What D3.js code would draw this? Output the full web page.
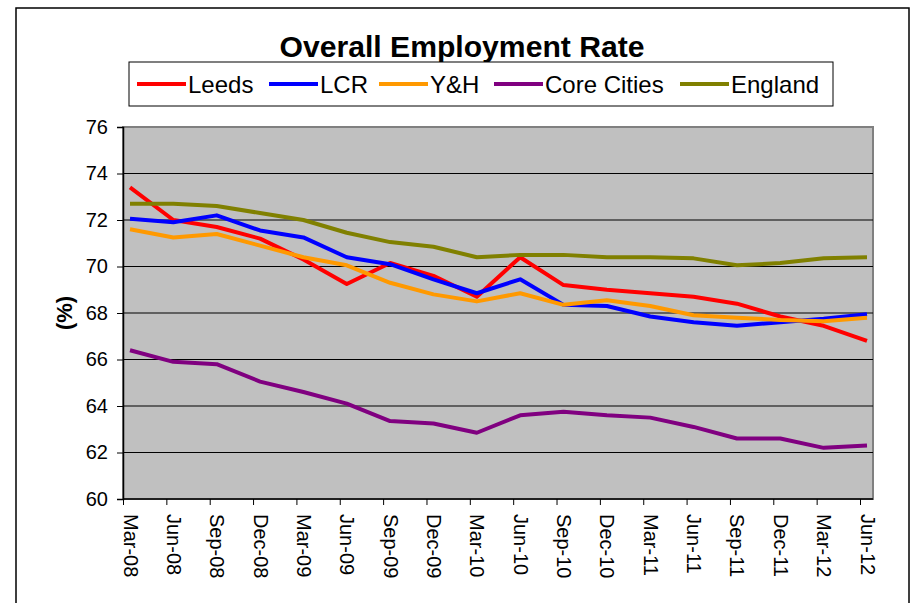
<!DOCTYPE html>
<html>
<head>
<meta charset="utf-8">
<script src="https://cdn.jsdelivr.net/npm/d3@7"></script>
<style>
  body { margin: 0; background: #fff; }
  svg { display: block; font-family: "Liberation Sans", Arial, sans-serif; }
</style>
</head>
<body>
<svg width="911" height="603"></svg>
<script>
// quarters along the x axis
var quarters = ["Mar-08","Jun-08","Sep-08","Dec-08","Mar-09","Jun-09","Sep-09","Dec-09","Mar-10",
                "Jun-10","Sep-10","Dec-10","Mar-11","Jun-11","Sep-11","Dec-11","Mar-12","Jun-12"];

// employment rate (%) per area
var leeds      = [73.4, 72.0, 71.7, 71.2, 70.3, 69.25, 70.15, 69.6, 68.7, 70.4, 69.2, 69.0, 68.85, 68.7, 68.4, 67.85, 67.45, 66.8];
var lcr        = [72.05, 71.9, 72.2, 71.55, 71.25, 70.4, 70.1, 69.45, 68.85, 69.45, 68.35, 68.3, 67.85, 67.6, 67.45, 67.6, 67.75, 67.95];
var yh         = [71.6, 71.25, 71.4, 70.9, 70.4, 70.05, 69.3, 68.8, 68.5, 68.85, 68.35, 68.55, 68.3, 67.9, 67.8, 67.7, 67.65, 67.8];
var coreCities = [66.4, 65.9, 65.8, 65.05, 64.6, 64.1, 63.35, 63.25, 62.85, 63.6, 63.75, 63.6, 63.5, 63.1, 62.6, 62.6, 62.2, 62.3];
var england    = [72.7, 72.7, 72.6, 72.3, 72.0, 71.45, 71.05, 70.85, 70.4, 70.5, 70.5, 70.4, 70.4, 70.35, 70.05, 70.15, 70.35, 70.4];

var yTicks = [60, 62, 64, 66, 68, 70, 72, 74, 76];

var series = [
  {name: "Leeds", values: leeds, color: "#ff0000"},
  {name: "LCR", values: lcr, color: "#0000ff"},
  {name: "Y&H", values: yh, color: "#ff9900"},
  {name: "Core Cities", values: coreCities, color: "#800080"},
  {name: "England", values: england, color: "#808000"}
];

var svg = d3.select("svg");

// outer chart frame
svg.append("rect")
  .attr("x", 16).attr("y", 8)
  .attr("width", 893).attr("height", 640)
  .attr("fill", "none").attr("stroke", "#000").attr("stroke-width", 1.5);

var plot = {left: 123, right: 873, top: 127, bottom: 499};

var x = d3.scalePoint().domain(quarters).range([130, 867]);
var y = d3.scaleLinear().domain([60, 76]).range([plot.bottom, plot.top]);

// plot background
svg.append("rect")
  .attr("x", plot.left).attr("y", plot.top)
  .attr("width", plot.right - plot.left).attr("height", plot.bottom - plot.top)
  .attr("fill", "#c0c0c0")
  .attr("stroke", "#808080").attr("stroke-width", 2);

// gridlines
svg.append("g")
  .selectAll("line")
  .data(yTicks.filter(d => d > 60 && d < 76))
  .join("line")
  .attr("x1", plot.left).attr("x2", plot.right)
  .attr("y1", d => y(d)).attr("y2", d => y(d))
  .attr("stroke", "#000").attr("stroke-width", 1);

// y axis
var yAxis = svg.append("g")
  .attr("transform", `translate(${plot.left},0)`)
  .call(d3.axisLeft(y).tickValues(yTicks).tickSize(6).tickPadding(9));
yAxis.select(".domain").attr("stroke", "#000").attr("stroke-width", 1.5);
yAxis.selectAll(".tick line").attr("stroke", "#000");
yAxis.selectAll("text")
  .attr("font-size", 20).attr("fill", "#000")
  .attr("font-family", "Liberation Sans, Arial, sans-serif");

// x axis
var xAxis = svg.append("g")
  .attr("transform", `translate(0,${plot.bottom})`)
  .call(d3.axisBottom(x).tickSize(6).tickSizeOuter(0));
xAxis.select(".domain").attr("d", `M${plot.left},0H${plot.right}`)
  .attr("stroke", "#000").attr("stroke-width", 1.5);
xAxis.selectAll(".tick line").attr("stroke", "#000").attr("transform", "translate(-7,0)");
xAxis.selectAll(".tick text")
  .attr("font-size", 20).attr("fill", "#000")
  .attr("font-family", "Liberation Sans, Arial, sans-serif")
  .attr("text-anchor", "start")
  .attr("x", 0).attr("y", 0)
  .attr("dy", "0.35em")
  .attr("transform", "translate(0,15) rotate(90)");

// y axis title
svg.append("text")
  .attr("transform", "translate(72,313) rotate(-90)")
  .attr("text-anchor", "middle")
  .attr("font-size", 22).attr("font-weight", "bold")
  .text("(%)");

// lines
var line = d3.line()
  .x((d, i) => x(quarters[i]))
  .y(d => y(d));

svg.append("g")
  .selectAll("path")
  .data(series)
  .join("path")
  .attr("fill", "none")
  .attr("stroke", d => d.color)
  .attr("stroke-width", 4)
  .attr("stroke-linejoin", "round")
  .attr("d", d => line(d.values));

// title
svg.append("text")
  .attr("x", 462).attr("y", 57)
  .attr("text-anchor", "middle")
  .attr("font-size", 29).attr("font-weight", "bold")
  .attr("textLength", 365).attr("lengthAdjust", "spacingAndGlyphs")
  .text("Overall Employment Rate");

// legend
svg.append("rect")
  .attr("x", 129).attr("y", 62)
  .attr("width", 704).attr("height", 44)
  .attr("fill", "#fff").attr("stroke", "#000").attr("stroke-width", 1);

var legendX = [137, 269, 379, 494, 680];
var legend = svg.append("g")
  .selectAll("g")
  .data(series)
  .join("g")
  .attr("transform", (d, i) => `translate(${legendX[i]},84)`);

legend.append("line")
  .attr("x1", 0).attr("x2", 49)
  .attr("stroke", d => d.color).attr("stroke-width", 4);

legend.append("text")
  .attr("x", 51).attr("y", 8.5)
  .attr("font-size", 24)
  .text(d => d.name);
</script>
</body>
</html>
